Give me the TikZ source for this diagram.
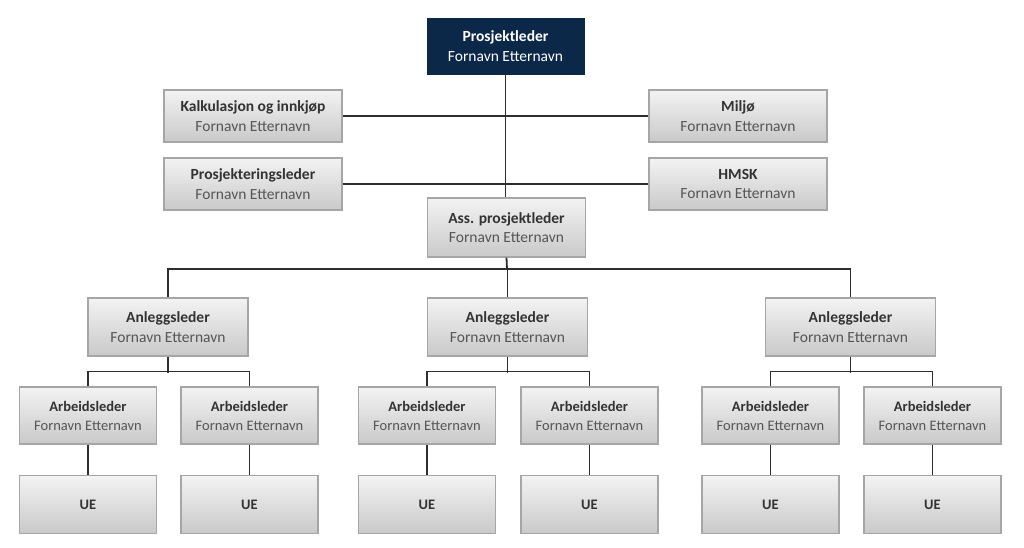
\documentclass[tikz,border=0pt]{standalone}
\usepackage{fontspec}
\setmainfont{Carlito}
\usetikzlibrary{positioning}
\definecolor{navy}{HTML}{0C2849}
\definecolor{boxline}{HTML}{A6A6A6}
\definecolor{boldtxt}{HTML}{333333}
\definecolor{regtxt}{HTML}{555555}
\definecolor{linec}{HTML}{2E2E2E}
\definecolor{shtop}{HTML}{F3F3F3}
\definecolor{shbot}{HTML}{C9C9C9}
\tikzset{
  orgbox/.style={draw=boxline, line width=1.2pt, top color=shtop, bottom color=shbot,
    rectangle, inner sep=0pt, align=center, font=\fontsize{15.5}{19.5}\selectfont},
  smallbox/.style={orgbox, font=\fontsize{14.5}{19}\selectfont},
  topbox/.style={draw=navy, fill=navy, rectangle, inner sep=0pt, align=center,
    text=white, font=\fontsize{15.5}{19.5}\selectfont},
  conn/.style={draw=linec, line width=1.1pt},
  busline/.style={draw=linec, line width=1.8pt},
}
\newcommand{\bt}[1]{\textcolor{boldtxt}{\textbf{#1}}}
\newcommand{\rt}[1]{\textcolor{regtxt}{#1}}
\begin{document}
\begin{tikzpicture}[x=1pt,y=-1pt]
\useasboundingbox (0,0) rectangle (1024,547);

% top
\node[topbox, minimum width=157pt, minimum height=56pt] (pl) at (505.5,46)
  {\textbf{Prosjektleder}\\Fornavn Etternavn};
\node[orgbox, minimum width=178pt, minimum height=52pt] (kalk) at (253,116)
  {\bt{Kalkulasjon og innkjøp}\\\rt{Fornavn Etternavn}};
\node[orgbox, minimum width=178pt, minimum height=52pt] (prosj) at (253,184)
  {\bt{Prosjekteringsleder}\\\rt{Fornavn Etternavn}};
\node[orgbox, minimum width=178pt, minimum height=52pt] (miljo) at (738,116)
  {\bt{Miljø}\\\rt{Fornavn Etternavn}};
\node[orgbox, minimum width=178pt, minimum height=52pt] (hmsk) at (738,184)
  {\bt{HMSK}\\\rt{Fornavn Etternavn}};
\node[orgbox, minimum width=158pt, minimum height=59pt] (ass) at (506.5,227.5)
  {\bt{Ass. prosjektleder}\\\rt{Fornavn Etternavn}};

% anleggsledere
\node[orgbox, minimum width=160pt, minimum height=58pt] (anl1) at (168,327)
  {\bt{Anleggsleder}\\\rt{Fornavn Etternavn}};
\node[orgbox, minimum width=160pt, minimum height=58pt] (anl2) at (507.5,327)
  {\bt{Anleggsleder}\\\rt{Fornavn Etternavn}};
\node[orgbox, minimum width=170pt, minimum height=58pt] (anl3) at (850.5,327)
  {\bt{Anleggsleder}\\\rt{Fornavn Etternavn}};

% arbeidsledere
\foreach \i/\cx in {1/88, 2/249.5, 3/427, 4/589.5, 5/770.5, 6/932.5} {
  \node[smallbox, minimum width=137pt, minimum height=57pt] (arb\i) at (\cx,415.5)
    {\bt{Arbeidsleder}\\\rt{Fornavn Etternavn}};
  \node[smallbox, minimum width=137pt, minimum height=58pt] (ue\i) at (\cx,504.5)
    {\bt{UE}};
}

% connectors (top)
\draw[conn] (pl.south) -- (pl.south |- ass.north);
\draw[conn] (kalk.east) -- (miljo.west);
\draw[conn] (prosj.east) -- (hmsk.west);

% bus to anleggsledere
\coordinate (bus) at (507,269);
\draw[busline] (ass.south) -- (bus);
\draw[busline] (bus) -| (anl1.north);
\draw[busline] (bus) -| (anl3.north);
\draw[busline] (anl2.north |- bus) -- (anl2.north);

% sub-buses
\draw[busline] (anl1.south) -- ++(0,16);
\draw[busline] (arb1.north) -- ++(0,-15) -| (arb2.north);
\draw[busline] (anl2.south) -- ++(0,16);
\draw[busline] (arb3.north) -- ++(0,-15) -| (arb4.north);
\draw[busline] (anl3.south) -- ++(0,16);
\draw[busline] (arb5.north) -- ++(0,-15) -| (arb6.north);

% arbeidsleder to UE
\foreach \i in {1,...,6} {
  \draw[busline] (arb\i.south) -- (ue\i.north);
}
\end{tikzpicture}
\end{document}
